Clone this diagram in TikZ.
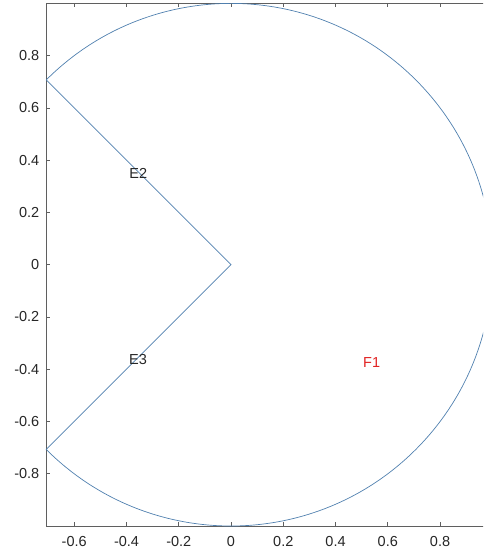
\documentclass[tikz,border=0pt]{standalone}
\usepackage{fontspec}
\setmainfont{Liberation Sans}
\definecolor{axisgray}{RGB}{95,95,95}
\definecolor{curveblue}{RGB}{80,128,175}
\definecolor{labelred}{RGB}{225,35,35}
\definecolor{textdark}{RGB}{38,38,38}
\begin{document}
\begin{tikzpicture}[x=261.3pt,y=261.3pt,
  ticklabel/.style={font=\fontsize{14.5}{16}\selectfont, text=textdark, inner sep=0pt},
  axisline/.style={draw=axisgray, line width=0.8pt},
  tickmark/.style={draw=axisgray, line width=0.8pt},
  curve/.style={draw=curveblue, line width=0.7pt},
  tagtext/.style={font=\fontsize{14.5}{16}\selectfont, inner sep=0pt}]
\useasboundingbox (-0.8841,-1.1033) rectangle (0.9644,1.0130);
\clip (-0.8841,-1.1033) rectangle (0.9644,1.0130);
% axes box
\draw[axisline] (-0.7071,-1) rectangle (1,1);
% x ticks
\foreach \v/\t [count=\i] in {-0.6/-0.6,-0.4/-0.4,-0.2/-0.2,0/0,0.2/0.2,0.4/0.4,0.6/0.6,0.8/0.8}{
  \draw[tickmark] (\v,-1) -- ++(0,0.0153);
  \draw[tickmark] (\v,1) -- ++(0,-0.0153);
  \node[ticklabel] (xl\i) at (\v,-1.060) {\t};
}
% y ticks
\foreach \v/\t [count=\i] in {-0.8/-0.8,-0.6/-0.6,-0.4/-0.4,-0.2/-0.2,0/0,0.2/0.2,0.4/0.4,0.6/0.6,0.8/0.8}{
  \draw[tickmark] (-0.7071,\v) -- ++(0.0153,0);
  \node[ticklabel, anchor=east] (yl\i) at (-0.733,\v) {\t};
}
% geometry
\coordinate (O) at (0,0);
\coordinate (A) at (135:1);
\coordinate (B) at (225:1);
\draw[curve] (A) -- (O) -- (B) arc[start angle=225, end angle=495, radius=1];
% labels
\node[tagtext, text=textdark] (E2) at (-0.355,0.348) {E2};
\node[tagtext, text=textdark] (E3) at (-0.356,-0.361) {E3};
\node[tagtext, text=labelred] (F1) at (0.538,-0.374) {F1};
\end{tikzpicture}
\end{document}
